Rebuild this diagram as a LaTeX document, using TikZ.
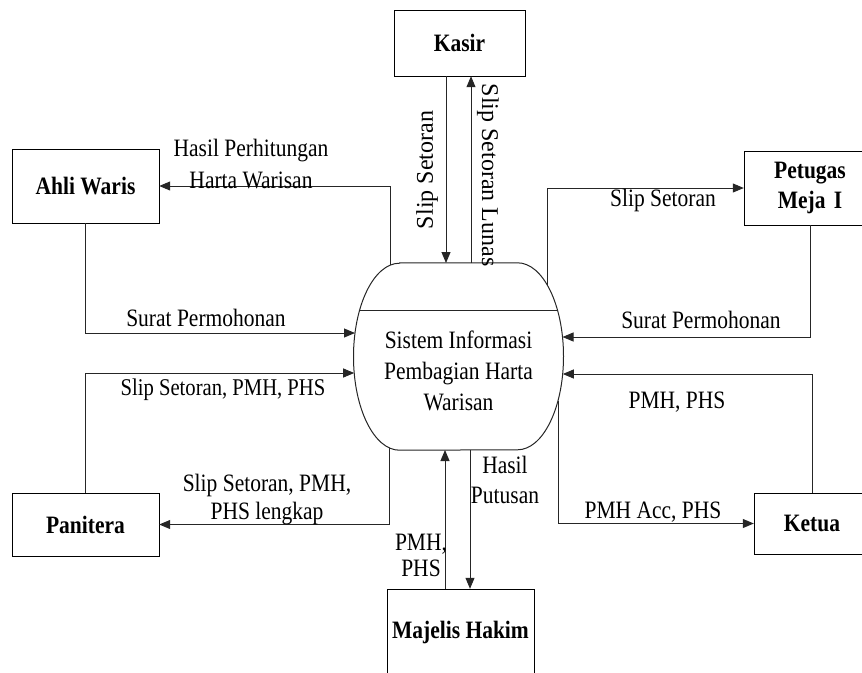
\documentclass[tikz,border=0pt]{standalone}
\usepackage{fontspec}
\setmainfont{Liberation Serif}[FakeStretch=0.86]
\newfontfamily\rotfont{Liberation Serif}
\usetikzlibrary{arrows.meta,calc}
\tikzset{
  ent/.style={draw, rectangle, inner sep=0pt, font=\bfseries\fontsize{25}{30}\selectfont, align=center},
  lbl/.style={inner sep=0pt, align=center, font=\fontsize{25}{31.5}\selectfont},
  arr/.style={-{Triangle[length=11pt,width=9pt]}},
  flow/.style={line width=1pt, draw=black!85},
}
\begin{document}
\begin{tikzpicture}[x=1pt,y=-1pt]
\useasboundingbox (0,0) rectangle (862,672);
\clip (0,0) rectangle (862,672);

% process bounding node
\node[rectangle, minimum width=210pt, minimum height=187pt, inner sep=0pt] (P) at (458.5,356.5) {};
\draw[flow, fill=white] ($(P.north)+(-59,0)$) -- ($(P.north)+(59,0)$)
  arc[start angle=90, end angle=-90, x radius=46pt, y radius=93.5pt]
  -- ($(P.south)+(-59,0)$)
  arc[start angle=270, end angle=90, x radius=46pt, y radius=93.5pt] -- cycle;
\draw[flow] ($(P.north)+(-99.2,48)$) -- ($(P.north)+(99.2,48)$);
\node[lbl, font=\fontsize{25}{31}\selectfont] (ptxt) at (458.5,371) {Sistem Informasi\\Pembagian Harta\\Warisan};

% external entities
\node[ent, minimum width=131pt, minimum height=66pt] (kasir) at (459.5,43) {Kasir};
\node[ent, minimum width=147pt, minimum height=74pt] (ahli) at (85.5,186) {Ahli Waris};
\node[ent, minimum width=132pt, minimum height=74pt, text width=130pt] (petugas) at (810,188) {Petugas\\Meja I};
\node[ent, minimum width=147pt, minimum height=63pt] (panitera) at (85.5,524.5) {Panitera};
\node[ent, minimum width=116pt, minimum height=61pt] (ketua) at (812,523.5) {Ketua};
\node[ent, minimum width=147pt, minimum height=87pt] (majelis) at (460.5,632.5) {Majelis Hakim};

% boundary points on the process shape
\coordinate (t1) at ($(P.center)+(-12.5,-93.5)$);
\coordinate (t2) at ($(P.center)+(12.5,-93.5)$);
\coordinate (l1) at ($(P.center)+(-68.5,-91.5)$);
\coordinate (l2) at ($(P.center)+(-103.5,-23.5)$);
\coordinate (l3) at ($(P.center)+(-104.3,16.5)$);
\coordinate (l4) at ($(P.center)+(-69.5,91)$);
\coordinate (b1) at ($(P.center)+(-13.5,93.5)$);
\coordinate (b2) at ($(P.center)+(11.5,93.5)$);
\coordinate (r1) at ($(P.center)+(88.5,-71.7)$);
\coordinate (r2) at ($(P.center)+(104,-19.5)$);
\coordinate (r3) at ($(P.center)+(104.3,17.5)$);
\coordinate (r4) at ($(P.center)+(99.5,44.3)$);

% connectors
\draw[flow, arr] ([xshift=-13.5pt]kasir.south) -- (t1);
\draw[flow, arr] (t2) -- ([xshift=11.5pt]kasir.south);
\draw[flow, arr] (l1) |- (ahli.east);
\draw[flow, arr] (ahli.south) |- (l2);
\draw[flow, arr] (panitera.north) |- (l3);
\draw[flow, arr] (l4) |- (panitera.east);
\draw[flow, arr] (b1 |- majelis.north) -- (b1);
\draw[flow, arr] (b2) -- (b2 |- majelis.north);
\draw[flow, arr] (r1) |- (petugas.west);
\draw[flow, arr] (petugas.south) |- (r2);
\draw[flow, arr] (ketua.north) |- (r3);
\draw[flow, arr] (r4) |- (ketua.west);

% labels
\node[lbl, rotate=90, font=\rotfont\fontsize{24}{30}\selectfont] (lk1) at (427,170) {Slip Setoran};
\node[lbl, rotate=-90, font=\rotfont\fontsize{24}{30}\selectfont] (lk2) at (488,175) {Slip Setoran Lunas};
\node[lbl] (la1) at (251,164) {Hasil Perhitungan\\Harta Warisan};
\node[lbl] (la2) at (206,318) {Surat Permohonan};
\node[lbl, font=\fontsize{24}{30}\selectfont] (lp1) at (223,390) {Slip Setoran, PMH, PHS};
\node[lbl, font=\fontsize{25}{28}\selectfont] (lp2) at (267,500) {Slip Setoran, PMH,\\PHS lengkap};
\node[lbl] (lr1) at (663,200) {Slip Setoran};
\node[lbl] (lr2) at (701,320) {Surat Permohonan};
\node[lbl] (lr3) at (677,402) {PMH, PHS};
\node[lbl] (lr4) at (653,512) {PMH Acc, PHS};
\node[lbl, font=\fontsize{25}{30}\selectfont] (lm1) at (505,480) {Hasil\\Putusan};
\node[lbl, font=\fontsize{25}{26}\selectfont] (lm2) at (421,555) {PMH,\\PHS};
\end{tikzpicture}
\end{document}
